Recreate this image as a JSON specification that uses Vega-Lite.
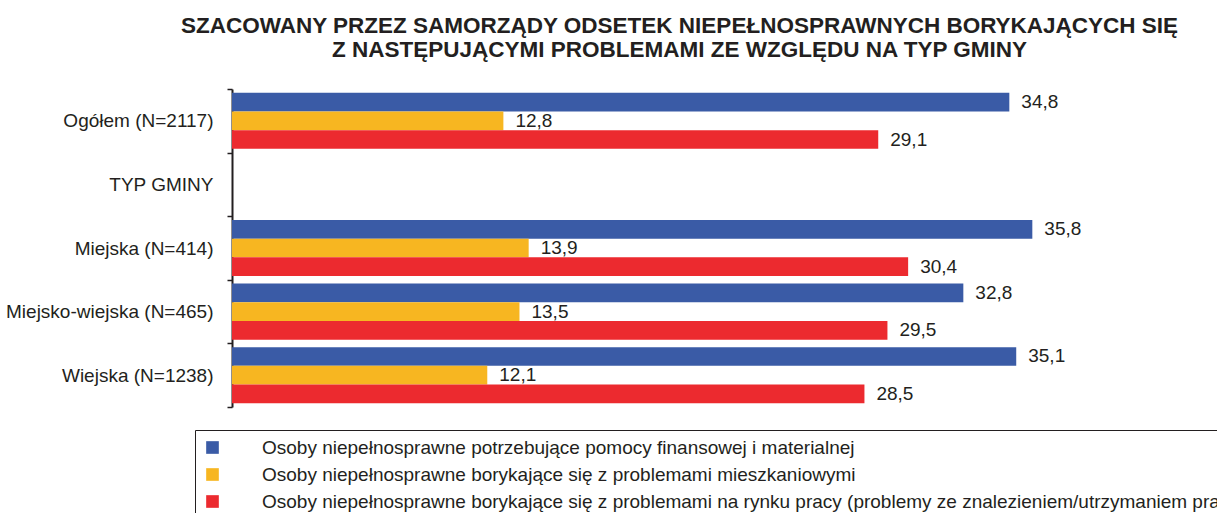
{
  "$schema": "https://vega.github.io/schema/vega-lite/v6.json",
  "width": 985,
  "height": 318,
  "autosize": {"type": "none"},
  "padding": {"left": 232, "top": 89, "right": 0, "bottom": 106},
  "config": {
    "view": {"stroke": null},
    "font": "Liberation Sans",
    "locale": {"number": {"decimal": ",", "thousands": " ", "grouping": [3], "currency": ["", " zł"]}}
  },
  "title": {
    "text": ["SZACOWANY PRZEZ SAMORZĄDY ODSETEK NIEPEŁNOSPRAWNYCH BORYKAJĄCYCH SIĘ", "Z NASTĘPUJĄCYMI PROBLEMAMI ZE WZGLĘDU NA TYP GMINY"],
    "anchor": "middle",
    "dx": -45,
    "fontSize": 22.5,
    "fontWeight": "bold",
    "font": "Liberation Sans",
    "color": "#231F20",
    "lineHeight": 23.5,
    "offset": 19
  },
  "data": {
    "values": [
      {"kat": "Ogółem (N=2117)", "seria": "Osoby niepełnosprawne potrzebujące pomocy finansowej i materialnej", "v": 34.8},
      {"kat": "Ogółem (N=2117)", "seria": "Osoby niepełnosprawne borykające się z problemami mieszkaniowymi", "v": 12.8},
      {"kat": "Ogółem (N=2117)", "seria": "Osoby niepełnosprawne borykające się z problemami na rynku pracy (problemy ze znalezieniem/utrzymaniem pracy)", "v": 29.1},
      {"kat": "Miejska (N=414)", "seria": "Osoby niepełnosprawne potrzebujące pomocy finansowej i materialnej", "v": 35.8},
      {"kat": "Miejska (N=414)", "seria": "Osoby niepełnosprawne borykające się z problemami mieszkaniowymi", "v": 13.9},
      {"kat": "Miejska (N=414)", "seria": "Osoby niepełnosprawne borykające się z problemami na rynku pracy (problemy ze znalezieniem/utrzymaniem pracy)", "v": 30.4},
      {"kat": "Miejsko-wiejska (N=465)", "seria": "Osoby niepełnosprawne potrzebujące pomocy finansowej i materialnej", "v": 32.8},
      {"kat": "Miejsko-wiejska (N=465)", "seria": "Osoby niepełnosprawne borykające się z problemami mieszkaniowymi", "v": 13.5},
      {"kat": "Miejsko-wiejska (N=465)", "seria": "Osoby niepełnosprawne borykające się z problemami na rynku pracy (problemy ze znalezieniem/utrzymaniem pracy)", "v": 29.5},
      {"kat": "Wiejska (N=1238)", "seria": "Osoby niepełnosprawne potrzebujące pomocy finansowej i materialnej", "v": 35.1},
      {"kat": "Wiejska (N=1238)", "seria": "Osoby niepełnosprawne borykające się z problemami mieszkaniowymi", "v": 12.1},
      {"kat": "Wiejska (N=1238)", "seria": "Osoby niepełnosprawne borykające się z problemami na rynku pracy (problemy ze znalezieniem/utrzymaniem pracy)", "v": 28.5}
    ]
  },
  "encoding": {
    "y": {
      "field": "kat",
      "type": "nominal",
      "title": null,
      "scale": {"domain": ["Ogółem (N=2117)", "TYP GMINY", "Miejska (N=414)", "Miejsko-wiejska (N=465)", "Wiejska (N=1238)"], "paddingInner": 0, "paddingOuter": 0},
      "axis": {
        "tickBand": "extent",
        "domainColor": "#231F20",
        "domainWidth": 2,
        "tickColor": "#231F20",
        "tickWidth": 1.5,
        "tickSize": 5,
        "labelPadding": 14,
        "labelFontSize": 19,
        "labelColor": "#231F20",
        "labelFont": "Liberation Sans",
        "labelLimit": 400
      }
    },
    "yOffset": {
      "field": "seria",
      "type": "nominal",
      "scale": {"domain": ["Osoby niepełnosprawne potrzebujące pomocy finansowej i materialnej", "Osoby niepełnosprawne borykające się z problemami mieszkaniowymi", "Osoby niepełnosprawne borykające się z problemami na rynku pracy (problemy ze znalezieniem/utrzymaniem pracy)"], "paddingInner": 0, "paddingOuter": 0.2}
    },
    "x": {
      "field": "v",
      "type": "quantitative",
      "scale": {"domain": [1, 43.83], "zero": false, "nice": false},
      "axis": null
    }
  },
  "layer": [
    {
      "mark": {"type": "bar", "clip": true},
      "encoding": {
        "color": {
          "field": "seria",
          "type": "nominal",
          "scale": {
            "domain": ["Osoby niepełnosprawne potrzebujące pomocy finansowej i materialnej", "Osoby niepełnosprawne borykające się z problemami mieszkaniowymi", "Osoby niepełnosprawne borykające się z problemami na rynku pracy (problemy ze znalezieniem/utrzymaniem pracy)"],
            "range": ["#3A5BA6", "#F7B621", "#EC2A2F"]
          },
          "legend": {
            "orient": "none",
            "legendX": -37,
            "legendY": 341,
            "title": null,
            "symbolType": "square",
            "symbolSize": 160,
            "symbolStrokeWidth": 0,
            "symbolOpacity": 1,
            "labelFontSize": 19,
            "labelFont": "Liberation Sans",
            "labelColor": "#231F20",
            "labelOffset": 40,
            "labelLimit": 2000,
            "strokeColor": "#231F20",
            "fillColor": "white",
            "padding": 8,
            "rowPadding": 7
          }
        }
      }
    },
    {
      "mark": {"type": "text", "align": "left", "baseline": "middle", "dx": 12, "fontSize": 19, "font": "Liberation Sans", "color": "#231F20"},
      "encoding": {
        "text": {"field": "v", "type": "quantitative", "format": ".1f"}
      }
    }
  ]
}
